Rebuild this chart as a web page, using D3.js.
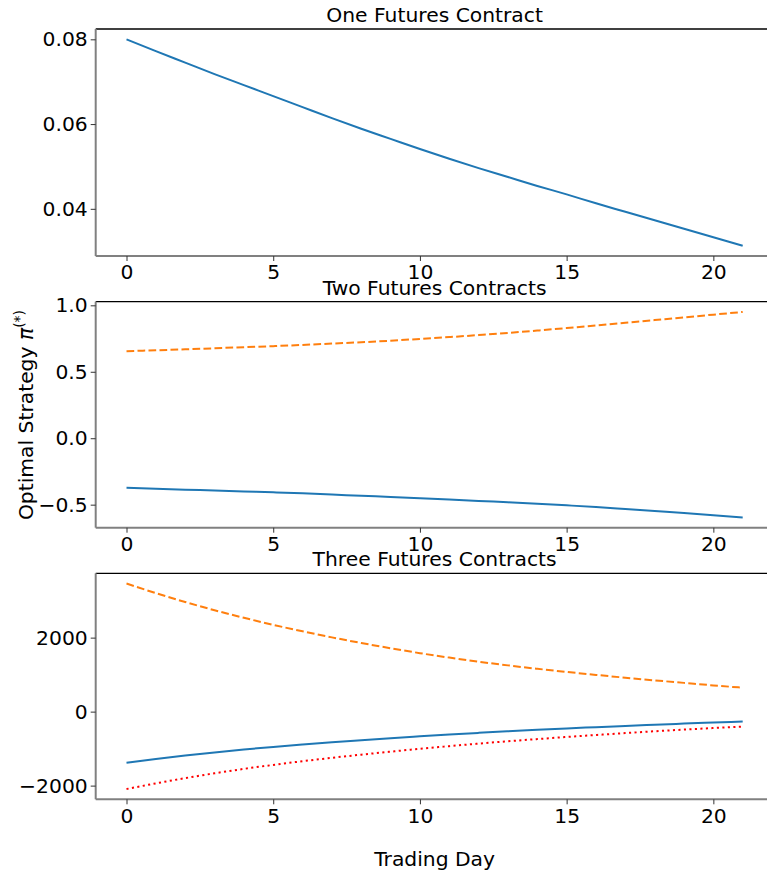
<!DOCTYPE html>
<html>
<head>
<meta charset="utf-8">
<script src="https://cdn.jsdelivr.net/npm/d3@7"></script>
<style>
  body { margin: 0; background: #fff; }
  text { font-family: "DejaVu Sans", sans-serif; fill: #000; }
</style>
</head>
<body>
<div id="chart"></div>
<script>
// trading days 0..21
const days = d3.range(0, 22);

// one contract
const oneBlue = [0.0800, 0.0772, 0.0745, 0.0718, 0.0692, 0.0666, 0.0640, 0.0614, 0.0589, 0.0565, 0.0541,
                 0.0518, 0.0496, 0.0475, 0.0454, 0.0434, 0.0413, 0.0393, 0.0373, 0.0353, 0.0333, 0.0313];

// two contracts
const twoBlue = [-0.373, -0.380, -0.387, -0.393, -0.400, -0.407, -0.415, -0.424, -0.433, -0.442, -0.451,
                 -0.461, -0.472, -0.482, -0.493, -0.505, -0.518, -0.533, -0.548, -0.563, -0.579, -0.596];
const twoOrange = [0.655, 0.662, 0.669, 0.677, 0.685, 0.693, 0.702, 0.712, 0.722, 0.734, 0.747,
                   0.761, 0.776, 0.792, 0.810, 0.829, 0.849, 0.869, 0.889, 0.909, 0.930, 0.950];

// three contracts
const threeBlue = [-1383, -1282, -1188, -1102, -1024, -953, -888, -827, -771, -717, -667,
                   -619, -574, -532, -493, -455, -420, -386, -354, -324, -296, -270];
const threeOrange = [3461, 3203, 2963, 2741, 2536, 2346, 2170, 2007, 1855, 1713, 1580,
                     1460, 1350, 1250, 1158, 1073, 993, 917, 845, 777, 709, 647];
const threeRed = [-2092, -1939, -1797, -1667, -1548, -1440, -1340, -1248, -1163, -1082, -1005,
                  -933, -865, -801, -742, -685, -632, -580, -531, -486, -444, -404];

const xTicks = [0, 5, 10, 15, 20];

const panels = [
  { title: "One Futures Contract", top: 29, bottom: 256,
    series: [{ v: oneBlue, color: "#1f77b4", dash: null }],
    yTicks: [0.04, 0.06, 0.08], fmt: d => d3.format(".2f")(d) },
  { title: "Two Futures Contracts", top: 301.7, bottom: 527.7,
    series: [{ v: twoBlue, color: "#1f77b4", dash: null },
             { v: twoOrange, color: "#ff7f0e", dash: "7.7,3.3" }],
    yTicks: [-0.5, 0, 0.5, 1.0], fmt: d => d3.format(".1f")(d).replace("-", "\u2212") },
  { title: "Three Futures Contracts", top: 573.3, bottom: 799.3,
    series: [{ v: threeBlue, color: "#1f77b4", dash: null },
             { v: threeOrange, color: "#ff7f0e", dash: "7.7,3.3" },
             { v: threeRed, color: "red", dash: "2.1,3.4" }],
    yTicks: [-2000, 0, 2000], fmt: d => String(d).replace("-", "\u2212") }
];

const width = 767, height = 876;
const left = 95.7, right = 773.5;
const fontSize = 20.3;

const svg = d3.select("#chart").append("svg")
    .attr("width", width)
    .attr("height", height);

// matplotlib style 5% margins
function padded(ext) {
  const m = (ext[1] - ext[0]) * 0.05;
  return [ext[0] - m, ext[1] + m];
}

const x = d3.scaleLinear()
    .domain(padded(d3.extent(days)))
    .range([left, right]);

panels.forEach(p => {
  const all = p.series.flatMap(s => s.v);
  const y = d3.scaleLinear()
      .domain(padded(d3.extent(all)))
      .range([p.bottom, p.top]);

  const g = svg.append("g");

  // lines
  const line = d3.line()
      .curve(d3.curveMonotoneX)
      .x((d, i) => x(days[i]))
      .y(d => y(d));
  p.series.forEach(s => {
    g.append("path")
        .datum(s.v)
        .attr("fill", "none")
        .attr("stroke", s.color)
        .attr("stroke-width", 2)
        .attr("stroke-dasharray", s.dash)
        .attr("d", line);
  });

  // spines
  g.append("line")
      .attr("x1", left).attr("x2", right)
      .attr("y1", p.top).attr("y2", p.top)
      .attr("stroke", "#000").attr("stroke-width", 1.3);
  g.append("line")
      .attr("x1", left).attr("x2", left)
      .attr("y1", p.top).attr("y2", p.bottom)
      .attr("stroke", "#808080").attr("stroke-width", 2);
  g.append("line")
      .attr("x1", left).attr("x2", right)
      .attr("y1", p.bottom).attr("y2", p.bottom)
      .attr("stroke", "#808080").attr("stroke-width", 2);

  // x axis
  const xa = g.append("g")
      .attr("transform", `translate(0,${p.bottom})`)
      .call(d3.axisBottom(x).tickValues(xTicks).tickSize(5).tickPadding(4).tickFormat(d3.format("d")));
  xa.select(".domain").remove();
  xa.selectAll(".tick line").attr("stroke", "#333");
  xa.selectAll(".tick text").attr("font-size", fontSize).attr("font-family", "DejaVu Sans");

  // y axis
  const ya = g.append("g")
      .attr("transform", `translate(${left},0)`)
      .call(d3.axisLeft(y).tickValues(p.yTicks).tickSize(5).tickPadding(3).tickFormat(p.fmt));
  ya.select(".domain").remove();
  ya.selectAll(".tick line").attr("stroke", "#333");
  ya.selectAll(".tick text").attr("font-size", fontSize).attr("font-family", "DejaVu Sans");

  // title
  svg.append("text")
      .attr("x", (left + right) / 2)
      .attr("y", p.top - 7)
      .attr("text-anchor", "middle")
      .attr("font-size", fontSize)
      .text(p.title);
});

// x label
svg.append("text")
    .attr("x", (left + right) / 2)
    .attr("y", 866)
    .attr("text-anchor", "middle")
    .attr("font-size", fontSize)
    .text("Trading Day");

// y label
const yl = svg.append("text")
    .attr("transform", "translate(33,415) rotate(-90)")
    .attr("text-anchor", "middle")
    .attr("font-size", fontSize);
yl.append("tspan").text("Optimal Strategy ");
yl.append("tspan").attr("font-style", "italic").text("\u03c0");
yl.append("tspan").attr("font-size", 14).attr("dy", -9).text("(*)");
</script>
</body>
</html>
